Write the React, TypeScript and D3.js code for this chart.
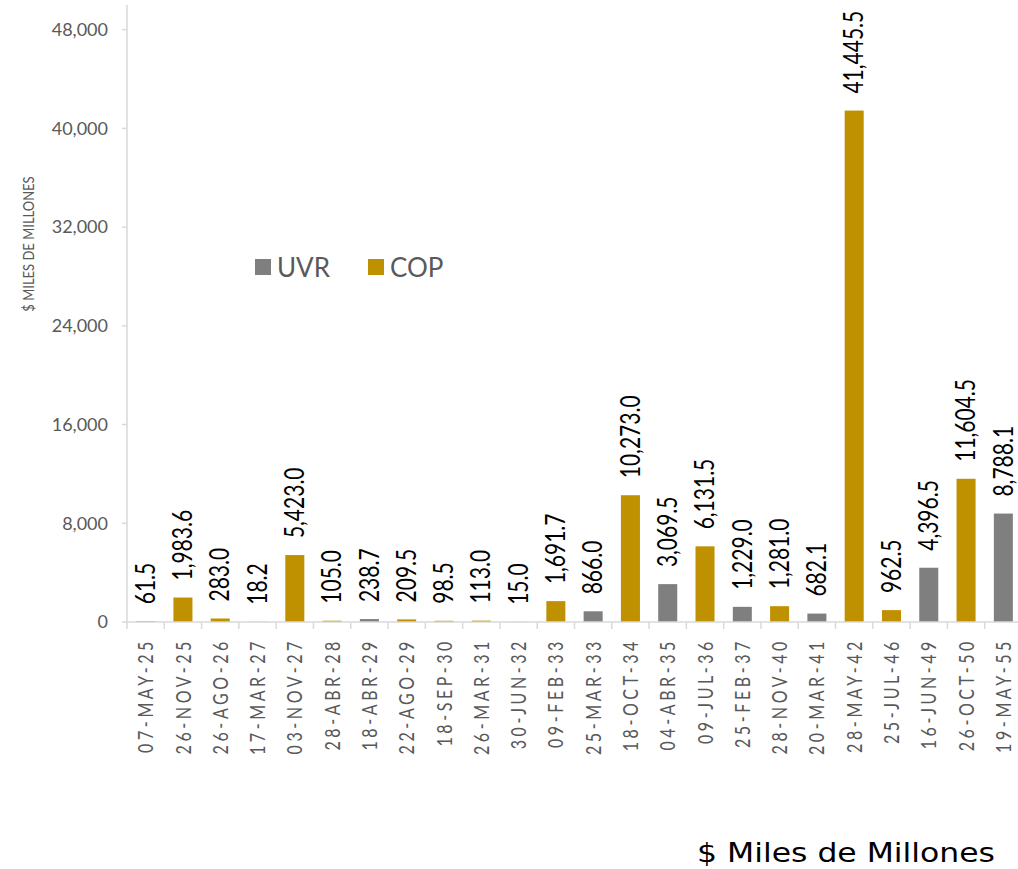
import * as React from 'react';
import * as d3 from 'd3';

const categories = [
  '07-MAY-25', '26-NOV-25', '26-AGO-26', '17-MAR-27', '03-NOV-27', '28-ABR-28',
  '18-ABR-29', '22-AGO-29', '18-SEP-30', '26-MAR-31', '30-JUN-32', '09-FEB-33',
  '25-MAR-33', '18-OCT-34', '04-ABR-35', '09-JUL-36', '25-FEB-37', '28-NOV-40',
  '20-MAR-41', '28-MAY-42', '25-JUL-46', '16-JUN-49', '26-OCT-50', '19-MAY-55',
];

// UVR series (0 = no bond in this series)
const uvrValues = [
  61.5, 0, 0, 18.2, 0, 0,
  238.7, 0, 0, 0, 0, 0,
  866.0, 0, 3069.5, 0, 1229.0, 0,
  682.1, 0, 0, 4396.5, 0, 8788.1,
];

// COP series
const copValues = [
  0, 1983.6, 283.0, 0, 5423.0, 105.0,
  0, 209.5, 98.5, 113.0, 15.0, 1691.7,
  0, 10273.0, 0, 6131.5, 0, 1281.0,
  0, 41445.5, 962.5, 0, 11604.5, 0,
];

const yTicks = [0, 8000, 16000, 24000, 32000, 40000, 48000];

const seriesNames = ['UVR', 'COP'];
const seriesColors = { UVR: '#7F7F7F', COP: '#BF9000' };

const width = 1018;
const height = 869;
const left = 127;
const right = 1022;
const baseY = 622;
const topY = 5;

const App = () => {
  // category scale, bars sit in the middle half of each slot
  const x = d3.scaleBand().domain(categories).range([left, right]).padding(0);
  const step = x.step();
  const barW = step * 0.51;
  const y = d3.scaleLinear().domain([0, 50000]).range([baseY, topY]);
  const fmt = d3.format(',.1f');
  const tickFmt = d3.format(',');

  const bars: Array<any> = [];
  categories.forEach((c, i) => {
    if (uvrValues[i] > 0) bars.push({ cat: c, value: uvrValues[i], series: 'UVR' });
    if (copValues[i] > 0) bars.push({ cat: c, value: copValues[i], series: 'COP' });
  });

  const axisColor = '#D9D9D9';
  const textGray = '#595959';
  const font = 'Lato, "Open Sans", sans-serif';

  return (
    <svg
      width={width}
      height={height}
      style={{ position: 'absolute', left: 0, top: 0, background: '#fff' }}
    >
      {/* y axis */}
      <line x1={left} x2={left} y1={topY} y2={baseY} stroke={axisColor} strokeWidth={1.5} />
      {yTicks.map(t => (
        <g key={t}>
          <line x1={left - 5} x2={left} y1={y(t)} y2={y(t)} stroke={axisColor} strokeWidth={1.5} />
          <text
            x={108}
            y={y(t)}
            dy="0.35em"
            textAnchor="end"
            fontFamily={font}
            fontSize={18}
            fill={textGray}
          >
            {tickFmt(t)}
          </text>
        </g>
      ))}
      <text
        transform={`translate(34,${244}) scale(1.15,1) rotate(-90)`}
        textAnchor="middle"
        fontFamily={font}
        fontSize={13}
        fill={textGray}
      >
        $ MILES DE MILLONES
      </text>

      {/* bars */}
      {bars.map(b => (
        <rect
          key={b.cat + b.series}
          x={(x(b.cat) as number) + (step - barW) / 2}
          y={y(b.value)}
          width={barW}
          height={baseY - y(b.value)}
          fill={seriesColors[b.series]}
        />
      ))}

      {/* x axis */}
      <line x1={left} x2={right} y1={baseY} y2={baseY} stroke={axisColor} strokeWidth={1.5} />
      {d3.range(categories.length + 1).map(k => (
        <line
          key={k}
          x1={left + k * step}
          x2={left + k * step}
          y1={baseY}
          y2={baseY + 7}
          stroke={axisColor}
          strokeWidth={1.5}
        />
      ))}
      {categories.map(c => (
        <text
          key={c}
          transform={`translate(${(x(c) as number) + step / 2},${638}) scale(1.35,1) rotate(-90)`}
          textAnchor="end"
          dy="0.35em"
          fontFamily={font}
          fontSize={16}
          letterSpacing={3.6}
          fill={textGray}
        >
          {c}
        </text>
      ))}

      {/* data labels */}
      {bars.map(b => (
        <text
          key={'l' + b.cat}
          transform={`translate(${(x(b.cat) as number) + step / 2},${y(b.value) - 17}) scale(1.25,1) rotate(-90)`}
          textAnchor="start"
          dy="0.35em"
          fontFamily={font}
          fontSize={21}
          fill="#000"
        >
          {fmt(b.value)}
        </text>
      ))}

      {/* legend */}
      {seriesNames.map((s, i) => (
        <g key={s} transform={`translate(${255 + i * 113},259)`}>
          <rect width={16} height={16} fill={seriesColors[s]} />
          <text x={22} y={18} fontFamily={font} fontSize={26} fill={textGray}>
            {s}
          </text>
        </g>
      ))}

      <text
        x={995}
        y={862}
        textAnchor="end"
        fontFamily='"DejaVu Sans", Verdana, sans-serif'
        fontSize={26}
        textLength={298}
        lengthAdjust="spacingAndGlyphs"
        fill="#000"
      >
        $ Miles de Millones
      </text>
    </svg>
  );
};

export default App;
